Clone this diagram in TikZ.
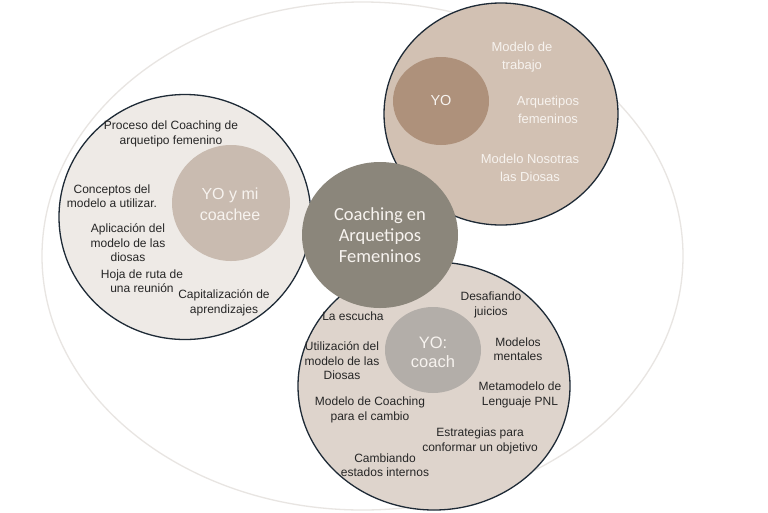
\documentclass[tikz,border=0pt]{standalone}
\usepackage{fontspec}
\setmainfont{Liberation Sans}
\newfontfamily\ctrfont{Carlito}
\usetikzlibrary{shapes.geometric}
\definecolor{outerln}{HTML}{E8E5E2}
\definecolor{topfill}{HTML}{D2C1B3}
\definecolor{yofill}{HTML}{AE917B}
\definecolor{leftfill}{HTML}{EEEAE6}
\definecolor{leftin}{HTML}{C9BBB0}
\definecolor{ctrfill}{HTML}{8B867B}
\definecolor{botfill}{HTML}{DED4CC}
\definecolor{botin}{HTML}{B3AEA9}
\definecolor{rim}{HTML}{1E2A36}
\definecolor{txt}{HTML}{262626}
\definecolor{wtxt}{HTML}{F7F3EF}
\tikzset{
  blob/.style={ellipse, inner sep=0pt, draw=none},
  rimmed/.style={blob, draw=rim, line width=1.3pt},
  lbl/.style={font=\fontsize{12}{14.5}\selectfont, align=center, text=txt, inner sep=0pt},
  wlbl/.style={font=\fontsize{13}{18.5}\selectfont, align=center, text=wtxt, inner sep=0pt},
  inlbl/.style={font=\fontsize{16}{21}\selectfont, align=center, text=wtxt, inner sep=0pt},
}
\begin{document}
\begin{tikzpicture}[x=1pt,y=-1pt]
\useasboundingbox (0,0) rectangle (768,512);
\fill[white] (0,0) rectangle (768,512);
% outer ellipse
\node[blob, draw=outerln, line width=1.3pt, fill=white, minimum width=641pt, minimum height=508pt] (outer) at (362.5,256) {};
% three satellite circles
\node[rimmed, fill=topfill, minimum width=234pt, minimum height=222pt] (top) at (501,114) {};
\node[rimmed, fill=leftfill, minimum width=252pt, minimum height=245pt] (left) at (185,217) {};
\node[rimmed, fill=botfill, minimum width=272pt, minimum height=248pt] (bot) at (434,386) {};
% inner circles
\node[blob, fill=yofill, minimum width=96pt, minimum height=88pt] (yo) at (441,101) {};
\node[blob, fill=leftin, minimum width=118pt, minimum height=116pt] (yocoachee) at (231,203) {};
\node[blob, fill=botin, minimum width=96pt, minimum height=86pt] (yocoach) at (433,350) {};
% centre
\node[blob, fill=ctrfill, minimum width=156pt, minimum height=146pt] (ctr) at (380,235) {};
\node[font=\ctrfont\fontsize{18.5}{21}\selectfont, align=center, text=wtxt, inner sep=0pt] (ctrtxt) at (ctr) {Coaching en\\Arquetipos\\Femeninos};
% inner texts
\node[font=\fontsize{14.5}{18}\selectfont, text=wtxt, inner sep=0pt] (yotxt) at (yo) {YO};
\node[inlbl] (yocoacheetxt) at (230,204) {YO y mi\\coachee};
\node[inlbl, font=\fontsize{16.5}{19}\selectfont] (yocoachtxt) at (433,352) {YO:\\coach};
% top labels
\node[wlbl] (t1) at (522,57) {Modelo de\\trabajo};
\node[wlbl] (t2) at (548,110) {Arquetipos\\femeninos};
\node[wlbl] (t3) at (530,168) {Modelo Nosotras\\las Diosas};
% left labels
\node[lbl] (p1) at (171,134) {Proceso del Coaching de\\arquetipo femenino};
\node[lbl] (p2) at (112,196) {Conceptos del\\modelo a utilizar.};
\node[lbl] (p3) at (128,243) {Aplicación del\\modelo de las\\diosas};
\node[lbl] (p4) at (142,281) {Hoja de ruta de\\una reunión};
\node[lbl] (p5) at (224,303) {Capitalización de\\aprendizajes};
% bottom labels
\node[lbl] (b1) at (353,316) {La escucha};
\node[lbl] (b2) at (491,305) {Desafiando\\juicios};
\node[lbl] (b3) at (518,349) {Modelos\\mentales};
\node[lbl] (b4) at (342,361) {Utilización del\\modelo de las\\Diosas};
\node[lbl] (b5) at (520,395) {Metamodelo de\\Lenguaje PNL};
\node[lbl] (b6) at (370,410) {Modelo de Coaching\\para el cambio};
\node[lbl] (b7) at (480,441) {Estrategias para\\conformar un objetivo};
\node[lbl] (b8) at (385,465) {Cambiando\\estados internos};
\end{tikzpicture}
\end{document}
